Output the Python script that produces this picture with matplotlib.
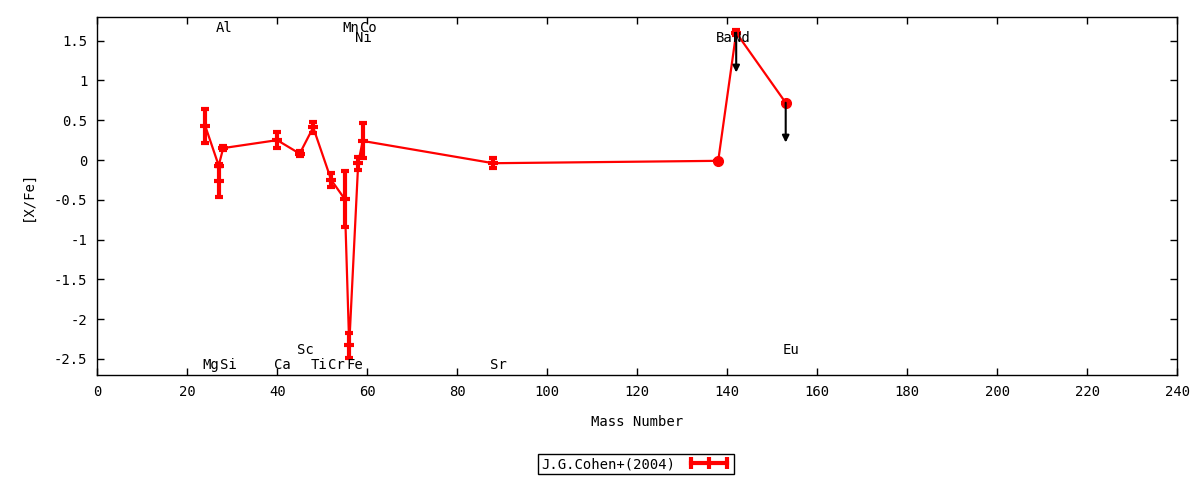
import matplotlib
matplotlib.use("Agg")
import matplotlib.pyplot as plt
from matplotlib.lines import Line2D
from matplotlib.legend_handler import HandlerLine2D
from matplotlib.ticker import MultipleLocator, FormatStrFormatter

plt.rcParams['font.family'] = ['DejaVu Sans Mono']
plt.rcParams['font.size'] = 10

# J.G.Cohen+(2004) abundances vs mass number
mass = [24, 27, 28, 40, 45, 48, 52, 55, 56, 58, 59, 88, 138, 142, 153]
xfe = [0.43, -0.07, 0.15, 0.25, 0.08, 0.41, -0.25, -0.49, -2.33, -0.04, 0.24, -0.04, -0.01, 1.60, 0.72]
xfe_err = [0.21, 0.0, 0.03, 0.10, 0.03, 0.07, 0.09, 0.35, 0.16, 0.08, 0.22, 0.06, 0.0, 0.03, 0.0]

# second Al value (error bar only, not on the line)
al_mass = [27]
al_xfe = [-0.26]
al_err = [0.21]

# points drawn as filled circles
dot_mass = [138, 153]
dot_xfe = [-0.01, 0.72]

# upper limits (arrows)
lim_mass = [142, 153]
lim_xfe = [1.60, 0.72]
lim_len = 0.5

# element labels
lab_names = ['Al', 'Mn', 'Co', 'Ni', 'Ba', 'Nd',
             'Mg', 'Si', 'Ca', 'Ti', 'Cr', 'Fe', 'Sr', 'Sc', 'Eu']
lab_mass = [27, 55, 59, 58, 138, 142,
            24, 28, 40, 48, 52, 56, 88, 45, 153]
lab_y = [1.66, 1.66, 1.66, 1.53, 1.53, 1.53,
         -2.57, -2.57, -2.57, -2.57, -2.57, -2.57, -2.57, -2.39, -2.39]

fig = plt.figure(figsize=(12, 4.8), dpi=100)
ax = fig.add_axes([0.081, 0.219, 0.9, 0.746])

ax.errorbar(mass, xfe, yerr=xfe_err, fmt='-', color='red', lw=1.6,
            elinewidth=3, capsize=3, capthick=3,
            marker='_', ms=7, mew=3)
ax.errorbar(al_mass, al_xfe, yerr=al_err, fmt='none', color='red',
            elinewidth=3, capsize=3, capthick=3)
ax.plot(al_mass, al_xfe, ls='none', marker='_', ms=7, mew=3, color='red')
ax.plot(dot_mass, dot_xfe, ls='none', marker='o', ms=7, color='red')

for m, v in zip(lim_mass, lim_xfe):
    ax.annotate('', xy=(m, v - lim_len), xytext=(m, v),
                arrowprops=dict(arrowstyle='-|>', color='black', lw=1.5,
                                mutation_scale=10, shrinkA=0, shrinkB=0))

for name, m, yy in zip(lab_names, lab_mass, lab_y):
    ax.annotate(name, xy=(m, yy), xytext=(4, 0), textcoords='offset points',
                ha='center', va='center')

ax.set_xlim(0, 240)
ax.set_ylim(-2.7, 1.8)
ax.xaxis.set_major_locator(MultipleLocator(20))
ax.yaxis.set_major_locator(MultipleLocator(0.5))
ax.yaxis.set_major_formatter(FormatStrFormatter('%g'))
ax.tick_params(direction='in', top=True, right=True, length=5, width=1, pad=7)
for s in ax.spines.values():
    s.set_linewidth(1)

ax.set_xlabel('Mass Number', labelpad=12)
ax.set_ylabel('[X/Fe]', labelpad=14)

# gnuplot-like key sample: thick line with three bar ticks
key = Line2D([], [], color='red', lw=3, marker='|', ms=9, mew=3)
leg = fig.legend(handles=[key], labels=['J.G.Cohen+(2004)'], loc='center',
                 bbox_to_anchor=(0.53, 0.033),
                 handler_map={key: HandlerLine2D(numpoints=3)},
                 markerfirst=False, fancybox=False, framealpha=1,
                 edgecolor='black', handlelength=3.2, borderpad=0.2)
leg.get_frame().set_linewidth(1)

fig.savefig('out.png', dpi=100)
